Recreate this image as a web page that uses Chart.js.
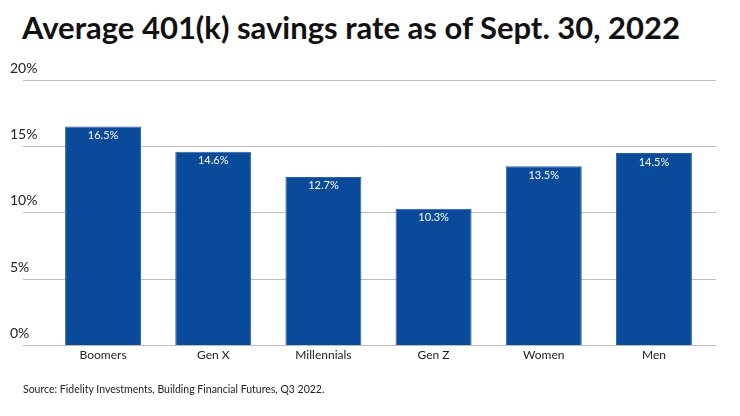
<!DOCTYPE html>
<html>
<head>
<meta charset="utf-8">
<script src="https://cdn.jsdelivr.net/npm/chart.js@4/dist/chart.umd.min.js"></script>
<style>
  body { margin: 0; background: #fff; font-family: Lato, sans-serif; }
  .wrap { position: relative; width: 740px; height: 416px; }
  .title { position: absolute; left: 22px; top: 8px; font-size: 31px; font-weight: bold; color: #111; white-space: nowrap; }
  .source { position: absolute; left: 23px; top: 383px; font-size: 10.5px; color: #222; }
  canvas { position: absolute; left: 0; top: 0; }
</style>
</head>
<body>
<div class="wrap">
  <div class="title">Average 401(k) savings rate as of Sept. 30, 2022</div>
  <canvas id="chart" width="740" height="416"></canvas>
  <div class="source">Source: Fidelity Investments, Building Financial Futures, Q3 2022.</div>
</div>
<script>
const groups = ['Boomers', 'Gen X', 'Millennials', 'Gen Z', 'Women', 'Men'];
const savingsRate = [16.5, 14.6, 12.7, 10.3, 13.5, 14.5];
const yTicks = [0, 5, 10, 15, 20];

const barColor = '#0a4a9b';
const gridColor = '#bdbdbd';

// white value labels just inside the top of each bar
const valueLabels = {
    id: 'valueLabels',
    afterDatasetsDraw(chart) {
        const ctx = chart.ctx;
        const meta = chart.getDatasetMeta(0);
        ctx.save();
        ctx.fillStyle = '#fff';
        ctx.font = '11px Lato';
        ctx.textAlign = 'center';
        ctx.textBaseline = 'middle';
        meta.data.forEach(function(bar, i){
            ctx.fillText(savingsRate[i].toFixed(1) + '%', bar.x, bar.y + 9);
        });
        ctx.restore();
    }
};

new Chart(document.getElementById('chart'), {
    type: 'bar',
    data: {
        labels: groups,
        datasets: [{
            data: savingsRate,
            backgroundColor: barColor,
            borderColor: '#2a5fa8',
            borderWidth: 1,
            categoryPercentage: 0.69,
            barPercentage: 1
        }]
    },
    options: {
        responsive: false,
        animation: false,
        layout: { padding: { top: 80, left: 10, right: 24, bottom: 52 } },
        plugins: {
            legend: { display: false },
            tooltip: { enabled: false }
        },
        scales: {
            x: {
                grid: { display: false, drawTicks: false },
                border: { display: false },
                ticks: { color: '#222', font: { family: 'Lato', size: 12 }, padding: 2 }
            },
            y: {
                min: 0,
                max: 20,
                afterBuildTicks(scale) { scale.ticks = yTicks.map(v => ({ value: v })); },
                afterFit(scale) { scale.width = 38; },
                border: { display: false },
                grid: { color: gridColor, tickColor: gridColor, tickLength: 25, lineWidth: 1 },
                ticks: {
                    color: '#222',
                    font: { family: 'Lato', size: 14 },
                    crossAlign: 'far',
                    labelOffset: -12,
                    callback: v => v + '%'
                }
            },
            y2: {
                position: 'right',
                min: 0,
                max: 20,
                afterBuildTicks(scale) { scale.ticks = yTicks.map(v => ({ value: v })); },
                afterFit(scale) { scale.width = 7; },
                border: { display: false },
                grid: { drawOnChartArea: false, tickColor: gridColor, tickLength: 7 },
                ticks: { display: false }
            }
        }
    },
    plugins: [valueLabels]
});
</script>
</body>
</html>
